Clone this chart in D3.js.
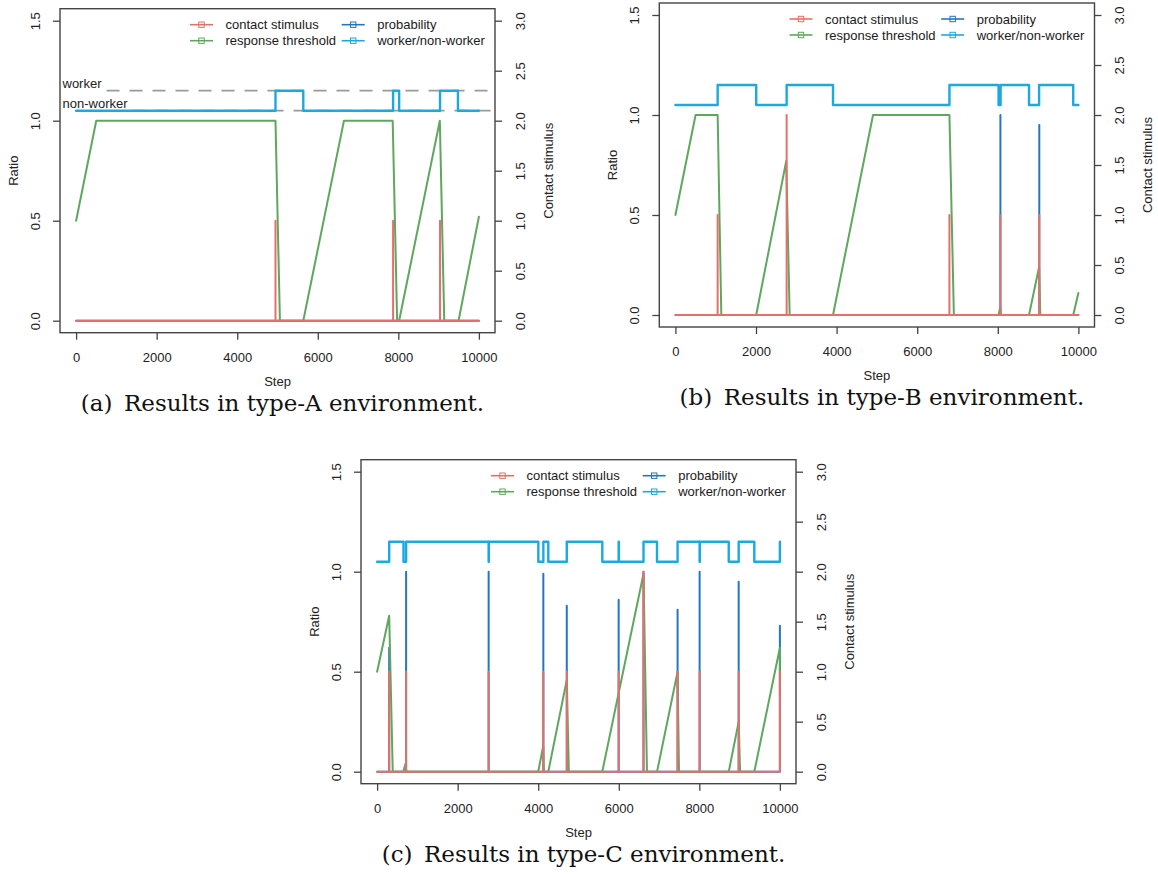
<!DOCTYPE html>
<html>
<head>
<meta charset="utf-8">
<script src="https://cdn.jsdelivr.net/npm/d3@7"></script>
<style>
  body { margin: 0; background: #fff; }
  svg { display: block; }
</style>
</head>
<body>
<svg id="fig" width="1158" height="877"></svg>
<script>
// ---- shared axis values ----
const stepTicks = [0, 2000, 4000, 6000, 8000, 10000];
const ratioTicks = [0, 0.5, 1.0, 1.5];
const stimulusTicks = [0, 0.5, 1.0, 1.5, 2.0, 2.5, 3.0];
const workerLevels = [1.05, 1.15];          // ratio value drawn for non-worker / worker
const levelNames = ["non-worker", "worker"];
const seriesNames = ["contact stimulus", "response threshold", "probability", "worker/non-worker"];
const stepRange = [0, 10000];

// ---- type-A environment ----
// response threshold: [step, ratio]
const thresholdA = [[0, 0.5], [500, 1.0], [4950, 1.0], [5060, 0], [5640, 0], [6650, 1.0], [7860, 1.0],
  [7970, 0], [8020, 0], [9030, 1.0], [9140, 0], [9495, 0], [10000, 0.52]];
// contact stimulus spikes: [step, stimulus]
const stimulusA = [[4950, 1.0], [7870, 1.0], [9035, 1.0]];
// probability spikes: [step, ratio]
const probabilityA = [];
// worker state changes: [step, 0 = non-worker | 1 = worker]
const workerA = [[0, 0], [4950, 1], [5640, 0], [7870, 1], [8020, 0], [9035, 1], [9480, 0], [10000, 0]];

// ---- type-B environment ----
const thresholdB = [[0, 0.5], [500, 1.0], [1048, 1.0], [1139, 0], [2005, 0], [2750, 0.77], [2835, 0],
  [3911, 0], [4904, 1.0], [6800, 1.0], [6910, 0], [8020, 0], [8060, 0.04], [8075, 0], [8775, 0],
  [9025, 0.24], [9055, 0], [9872, 0], [10000, 0.11]];
const stimulusB = [[1048, 1.0], [2760, 2.0], [6800, 1.0], [8065, 1.0], [9030, 1.0]];
const probabilityB = [[8065, 1.0], [9030, 0.95]];
const workerB = [[0, 0], [1048, 1], [2005, 0], [2760, 1], [3911, 0], [6800, 1], [8020, 0], [8070, 1],
  [8775, 0], [9025, 1], [9872, 0], [10000, 0]];

// ---- type-C environment ----
const thresholdC = [[0, 0.5], [300, 0.78], [388, 0], [650, 0], [705, 0.04], [725, 0], [4000, 0],
  [4125, 0.13], [4140, 0], [4250, 0], [4710, 0.46], [4760, 0], [5590, 0], [6614, 0.99], [6700, 0],
  [6950, 0], [7460, 0.5], [7495, 0], [8730, 0], [8977, 0.25], [9012, 0], [9365, 0], [10000, 0.62],
  [10000, 0.38]];
const stimulusC = [[300, 1.0], [720, 1.0], [2769, 1.0], [4127, 1.0], [4709, 1.0], [5997, 1.0],
  [6614, 2.0], [7460, 1.0], [8007, 1.0], [8977, 1.0], [10000, 1.0]];
const probabilityC = [[300, 0.62], [720, 1.0], [2769, 1.0], [4127, 0.99], [4709, 0.83], [5997, 0.86],
  [6614, 1.0], [7460, 0.81], [8007, 1.0], [8977, 0.95], [10000, 0.73]];
const workerC = [[0, 0], [300, 1], [655, 0], [720, 1], [2769, 0], [2775, 1], [4003, 0], [4127, 1],
  [4250, 0], [4709, 1], [5591, 0], [5997, 1], [6003, 0], [6614, 1], [6949, 0], [7460, 1], [8007, 0],
  [8013, 1], [8730, 0], [8977, 1], [9365, 0], [10000, 1]];

const captions = ["(a)\u2002Results in type-A environment.",
                  "(b)\u2002Results in type-B environment.",
                  "(c)\u2002Results in type-C environment."];

// ---- styling ----
const colors = {
  stimulus: "#e4706a",
  threshold: "#5fa75f",
  probability: "#2477bf",
  worker: "#1ca9df"
};
const sans = "'Liberation Sans', Arial, Helvetica, sans-serif";
const serif = "'DejaVu Serif', 'Liberation Serif', serif";

const panels = [
  { box: { l: 60, r: 495, t: 8.7, b: 332.7 }, caption: captions[0], levelGuides: true,
    threshold: thresholdA, stimulus: stimulusA, probability: probabilityA, worker: workerA },
  { box: { l: 659.3, r: 1094.5, t: 3, b: 327 }, caption: captions[1], levelGuides: false,
    threshold: thresholdB, stimulus: stimulusB, probability: probabilityB, worker: workerB },
  { box: { l: 361, r: 796, t: 459.7, b: 783.7 }, caption: captions[2], levelGuides: false,
    threshold: thresholdC, stimulus: stimulusC, probability: probabilityC, worker: workerC }
];

const svg = d3.select("#fig");
svg.append("rect").attr("width", 1158).attr("height", 877).attr("fill", "#fff");

// spike list -> polyline sitting on the zero baseline
function spikePath(list) {
  const pts = [[stepRange[0], 0]];
  list.forEach(([s, v]) => { pts.push([s, 0], [s, v], [s, 0]); });
  pts.push([stepRange[1], 0]);
  return pts;
}

function drawPanel(p) {
  const { l, r, t, b } = p.box;
  // R-style 4% padding around the data range
  const xPad = (stepRange[1] - stepRange[0]) * 0.04;
  const x = d3.scaleLinear().domain([stepRange[0] - xPad, stepRange[1] + xPad]).range([l, r]);
  const y = d3.scaleLinear().domain([-0.06, 1.56]).range([b, t]);
  const yr = d3.scaleLinear().domain([-0.12, 3.12]).range([b, t]);

  const g = svg.append("g");

  // level guides (type-A only)
  if (p.levelGuides) {
    workerLevels.forEach((lv, i) => {
      const label = g.append("text")
        .attr("x", l + 2.5).attr("y", y(lv) - 3)
        .attr("font-family", sans).attr("font-size", 13).attr("fill", "#222")
        .text(levelNames[i]);
      const endX = l + 2.5 + label.node().getComputedTextLength() + 5;
      g.append("line")
        .attr("x1", endX).attr("x2", r)
        .attr("y1", y(lv)).attr("y2", y(lv))
        .attr("stroke", "#9a9a9a").attr("stroke-width", 1.8)
        .attr("stroke-dasharray", "13,10");
    });
  }

  const lineR = d3.line().x(d => x(d[0])).y(d => y(d[1]));
  const lineS = d3.line().x(d => x(d[0])).y(d => yr(d[1]));
  const lineW = d3.line().curve(d3.curveStepAfter).x(d => x(d[0])).y(d => y(workerLevels[d[1]]));

  const common = sel => sel.attr("fill", "none").attr("stroke-linejoin", "round").attr("stroke-linecap", "round");

  g.append("path").datum(p.worker).attr("d", lineW).call(common)
    .attr("stroke", colors.worker).attr("stroke-width", 2.4);
  g.append("path").datum(spikePath(p.probability)).attr("d", lineR).call(common)
    .attr("stroke", colors.probability).attr("stroke-width", 2);
  g.append("path").datum(p.threshold).attr("d", lineR).call(common)
    .attr("stroke", colors.threshold).attr("stroke-width", 2);
  g.append("path").datum(spikePath(p.stimulus)).attr("d", lineS).call(common)
    .attr("stroke", colors.stimulus).attr("stroke-width", 2);

  // axes
  const styleAxis = ax => {
    ax.select(".domain").remove();
    ax.selectAll(".tick line").attr("stroke", "#444").attr("stroke-width", 1.3);
    ax.selectAll(".tick text").attr("font-family", sans).attr("font-size", 13).attr("fill", "#222");
  };

  const ax = g.append("g").attr("transform", `translate(0,${b})`)
    .call(d3.axisBottom(x).tickValues(stepTicks).tickSize(7).tickPadding(10).tickFormat(d3.format("d")))
    .call(styleAxis);
  ax.selectAll(".tick text").attr("y", 24.5).attr("dy", "0.35em");

  const ayl = g.append("g").attr("transform", `translate(${l},0)`)
    .call(d3.axisLeft(y).tickValues(ratioTicks).tickSize(7).tickFormat(d3.format(".1f")))
    .call(styleAxis);
  ayl.selectAll(".tick text")
    .attr("x", null).attr("dy", null)
    .attr("text-anchor", "middle").attr("dominant-baseline", "central")
    .attr("transform", "translate(-25,0) rotate(-90)");

  const ayr = g.append("g").attr("transform", `translate(${r},0)`)
    .call(d3.axisRight(yr).tickValues(stimulusTicks).tickSize(7).tickFormat(d3.format(".1f")))
    .call(styleAxis);
  ayr.selectAll(".tick text")
    .attr("x", null).attr("dy", null)
    .attr("text-anchor", "middle").attr("dominant-baseline", "central")
    .attr("transform", "translate(25,0) rotate(-90)");

  // plot frame
  g.append("rect").attr("x", l).attr("y", t).attr("width", r - l).attr("height", b - t)
    .attr("fill", "none").attr("stroke", "#444").attr("stroke-width", 1.4);

  // axis titles
  g.append("text").attr("x", (l + r) / 2).attr("y", b + 48.5)
    .attr("text-anchor", "middle").attr("dominant-baseline", "central")
    .attr("font-family", sans).attr("font-size", 13).attr("fill", "#222").text("Step");
  g.append("text").attr("transform", `translate(${l - 47},${(t + b) / 2}) rotate(-90)`)
    .attr("text-anchor", "middle").attr("dominant-baseline", "central")
    .attr("font-family", sans).attr("font-size", 13).attr("fill", "#222").text("Ratio");
  g.append("text").attr("transform", `translate(${r + 53},${(t + b) / 2}) rotate(-90)`)
    .attr("text-anchor", "middle").attr("dominant-baseline", "central")
    .attr("font-family", sans).attr("font-size", 13).attr("fill", "#222").text("Contact stimulus");

  // legend (two columns, top right)
  const legendColors = [colors.stimulus, colors.threshold, colors.probability, colors.worker];
  seriesNames.forEach((name, i) => {
    const col = Math.floor(i / 2), row = i % 2;
    const sx = r - (col === 0 ? 305 : 153.3);
    const sy = t + 16 + row * 16;
    const lg = g.append("g");
    lg.append("line").attr("x1", sx).attr("x2", sx + 23).attr("y1", sy).attr("y2", sy)
      .attr("stroke", legendColors[i]).attr("stroke-width", 1.6);
    lg.append("rect").attr("x", sx + 11.5 - 2.7).attr("y", sy - 2.7).attr("width", 5.4).attr("height", 5.4)
      .attr("fill", "none").attr("stroke", legendColors[i]).attr("stroke-width", 1);
    lg.append("text").attr("x", sx + 35.5).attr("y", sy).attr("dominant-baseline", "central")
      .attr("font-family", sans).attr("font-size", 13).attr("fill", "#1a1a1a").text(name);
  });

  // caption
  g.append("text").attr("x", (l + r) / 2 + 5).attr("y", b + 78)
    .attr("text-anchor", "middle")
    .attr("font-family", serif).attr("font-size", 23).attr("fill", "#111")
    .text(p.caption);
}

panels.forEach(drawPanel);
</script>
</body>
</html>
